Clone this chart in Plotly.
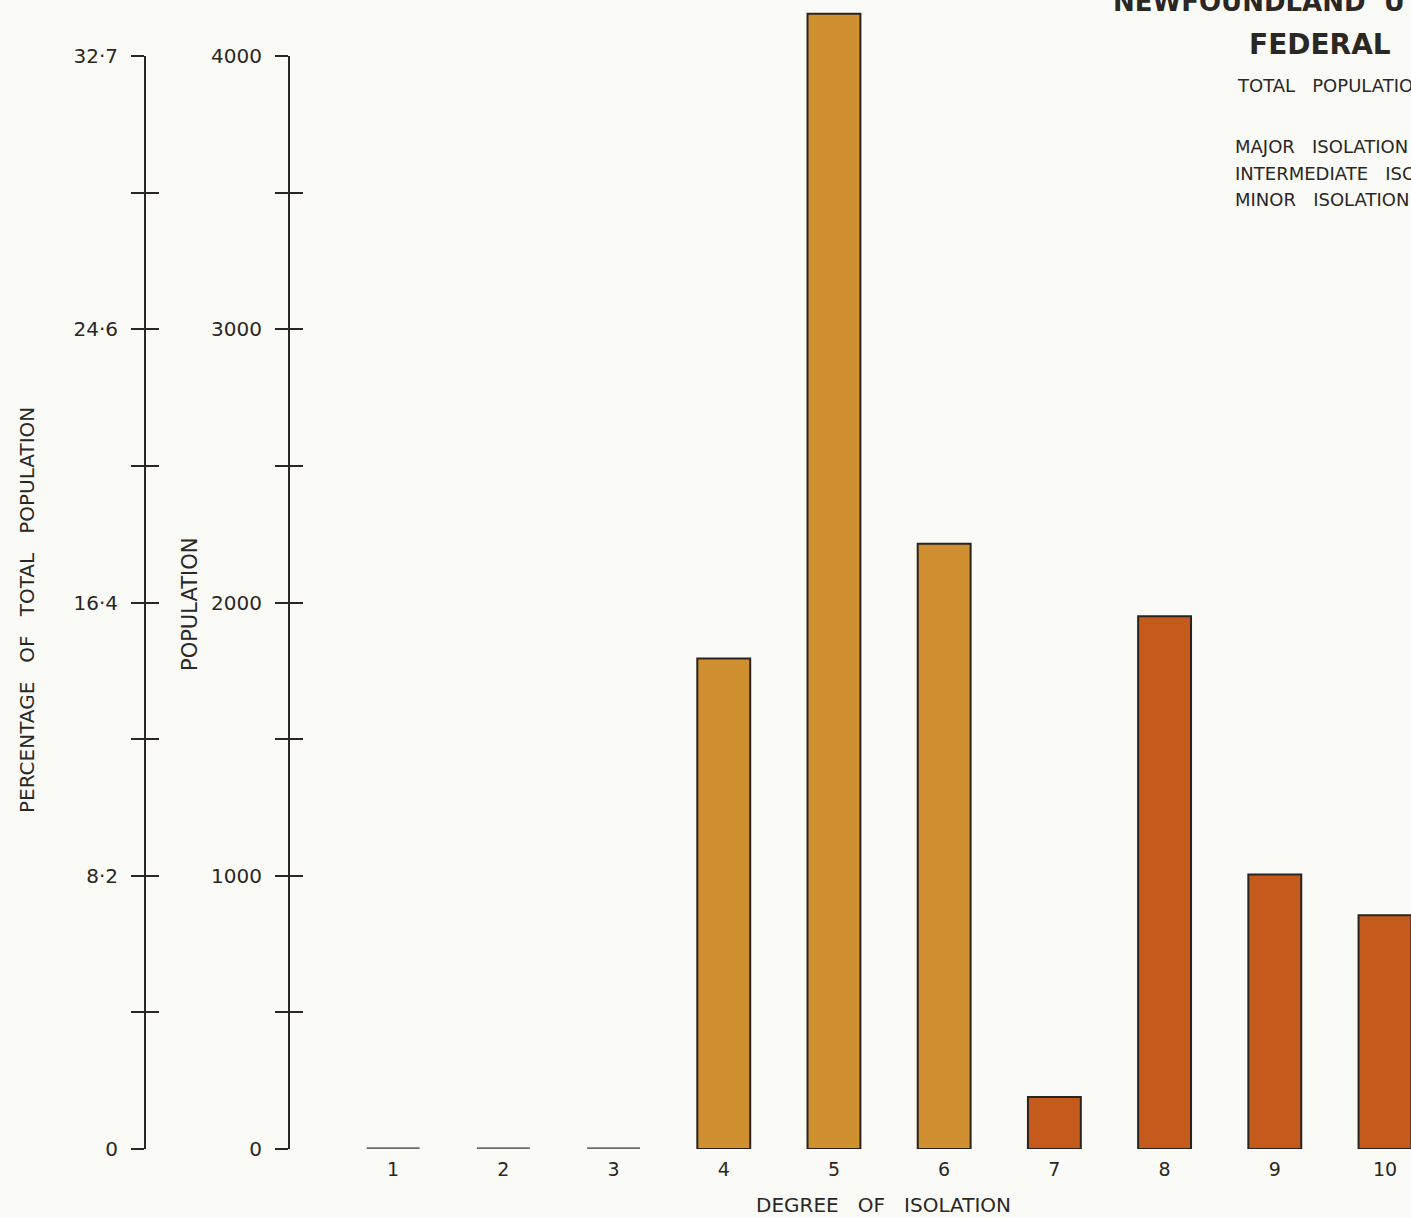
import plotly.graph_objects as go

# ---- data ----
degrees = [1, 2, 3, 4, 5, 6, 7, 8, 9, 10]
degree_labels = ["1", "2", "3", "4", "5", "6", "7", "8", "9", "10"]
population = [0, 0, 0, 1795, 4155, 2215, 190, 1950, 1005, 855]
bar_colors = ["#D0902F"] * 6 + ["#C45A1C"] * 4
outline_colors = ["#6c6c67"] * 3 + ["#2a2420"] * 7
outline_widths = [3.5] * 3 + [2] * 7

pop_tickvals = [0, 500, 1000, 1500, 2000, 2500, 3000, 3500, 4000]
pop_ticktext = ["0", "", "1000", "", "2000", "", "3000", "", "4000"]
pct_ticktext = ["0", "", "8·2", "", "16·4", "", "24·6", "", "32·7"]

W, H = 1411, 1218
MB = 69
FONT = "DejaVu Sans"
INK = "#2a2724"
BG = "#FAFAF7"

x_plot_left = 289 / W
x_pct_axis = 145 / W
plot_h = H - MB
ax_top = (1149 - 56) / plot_h

fig = go.Figure()

fig.add_trace(go.Bar(
    x=degrees, y=population, width=0.48,
    marker=dict(color=bar_colors, line=dict(color=outline_colors, width=outline_widths)),
    xaxis="x", yaxis="y", showlegend=False, hoverinfo="x+y",
))

for ya in ["y2", "y3", "y4", "y5"]:
    fig.add_trace(go.Scatter(x=[None], y=[None], xaxis="x", yaxis=ya,
                             showlegend=False, hoverinfo="skip"))

axis_common = dict(
    range=[0, 4000], domain=[0, ax_top], anchor="free",
    showgrid=False, zeroline=False, tickvals=pop_tickvals,
    ticklen=13, tickwidth=2, tickcolor=INK,
    tickfont=dict(family=FONT, size=20, color=INK),
    ticklabelstandoff=9,
    fixedrange=True,
)

fig.update_layout(
    width=W, height=H,
    paper_bgcolor=BG, plot_bgcolor="rgba(0,0,0,0)",
    margin=dict(l=0, r=0, t=0, b=MB, autoexpand=False),
    xaxis=dict(
        domain=[x_plot_left, 1], range=[0.055, 10.236],
        tickvals=degrees, ticktext=degree_labels, ticks="",
        showline=False, showgrid=False, zeroline=False,
        tickfont=dict(family=FONT, size=19, color=INK),
        ticklabelstandoff=7, fixedrange=True,
    ),
    yaxis=dict(range=[0, 1149 / 0.27325], domain=[0, 1], visible=False,
               showgrid=False, zeroline=False, fixedrange=True),
    yaxis2=dict(axis_common, position=x_plot_left, side="left",
                ticks="outside", ticktext=pop_ticktext,
                showline=True, linecolor=INK, linewidth=2),
    yaxis3=dict(axis_common, position=x_plot_left, side="left",
                ticks="inside", showticklabels=False, overlaying="y2",
                showline=False),
    yaxis4=dict(axis_common, position=x_pct_axis, side="left",
                ticks="outside", ticktext=pct_ticktext, overlaying="y2",
                showline=True, linecolor=INK, linewidth=2),
    yaxis5=dict(axis_common, position=x_pct_axis, side="left",
                ticks="inside", showticklabels=False, overlaying="y2",
                showline=False),
)

sp3 = "\u00a0\u00a0\u00a0"
sp2 = "\u00a0\u00a0"
texts = [
    # text, x_px, y_px(center from top), xanchor, size, angle
    (f"DEGREE{sp3}OF{sp3}ISOLATION", 883, 1205, "center", 20, 0),
    (f"PERCENTAGE{sp3}OF{sp3}TOTAL{sp3}POPULATION", 27, 610, "center", 20, -90),
    ("POPULATION", 190, 605, "center", 21, -90),
    (f"<b>NEWFOUNDLAND{sp2}U</b>", 1111, 2, "left", 26, 0),
    ("<b>FEDERAL</b>", 1247, 45, "left", 28, 0),
    (f"TOTAL{sp3}POPULATION", 1235, 86, "left", 18, 0),
    (f"MAJOR{sp3}ISOLATION", 1233, 147, "left", 18, 0),
    (f"INTERMEDIATE{sp3}ISOLATION", 1233, 173, "left", 18, 0),
    (f"MINOR{sp3}ISOLATION", 1233, 199, "left", 18, 0),
]
for t, xp, yp, xa, sz, ang in texts:
    fig.add_annotation(
        text=t, xref="paper", yref="paper", x=xp / W, y=(plot_h - yp) / plot_h,
        xanchor=xa, yanchor="middle", showarrow=False, textangle=ang,
        font=dict(family=FONT, size=sz, color=INK),
    )

fig.write_html("out.html", config={"displayModeBar": False})

# remove the default page margin so the figure fills the window exactly
with open("out.html", "r", encoding="utf-8") as f:
    html = f.read()
html = html.replace("<head>", "<head><style>html,body{margin:0;padding:0;overflow:hidden;}</style>", 1)
with open("out.html", "w", encoding="utf-8") as f:
    f.write(html)
